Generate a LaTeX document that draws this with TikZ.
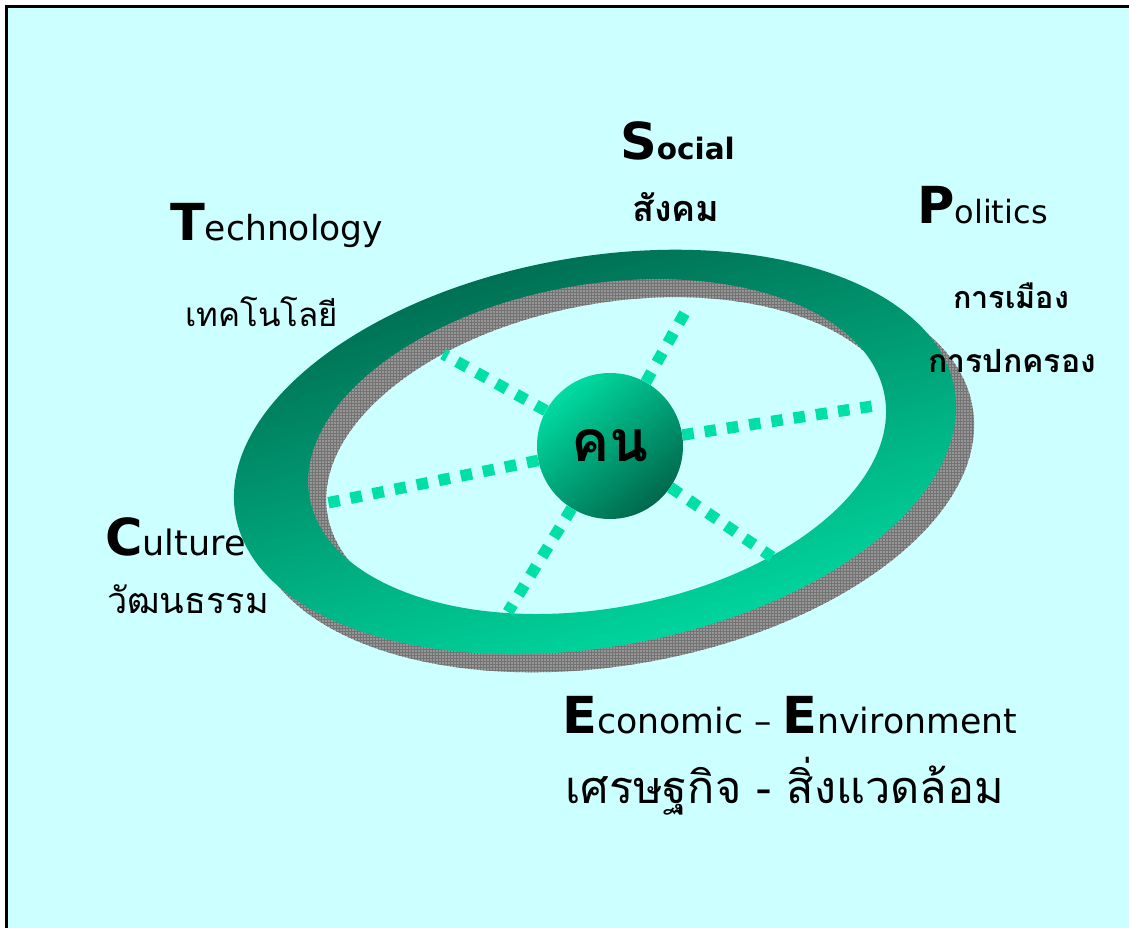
\documentclass[tikz,border=0pt]{standalone}
\usepackage{fontspec}
\setmainfont{DejaVu Sans}
\newfontfamily\thaifont[Script=Thai]{Loma}
\usetikzlibrary{patterns}
\definecolor{bgcyan}{RGB}{204,255,255}
\definecolor{ringdark}{RGB}{0,96,72}
\definecolor{ringlight}{RGB}{0,228,168}
\definecolor{spokecol}{RGB}{0,224,166}
\definecolor{shadowgray}{RGB}{150,150,150}
\definecolor{balllight}{RGB}{0,220,162}
\definecolor{balldark}{RGB}{0,104,76}
\newcommand{\setsize}[1]{\fontsize{#1}{#1}\selectfont}
\newcommand{\ini}[1]{{\setsize{51}\bfseries #1}}

\begin{document}
\begin{tikzpicture}[x=1pt,y=1pt,
    eng/.style={anchor=base west, inner sep=0pt, font=\setsize{35}},
    thai/.style={anchor=base west, inner sep=0pt, font=\thaifont\setsize{36}},
    spokeline/.style={spokecol, line width=11.5pt, dash pattern=on 11.5pt off 11pt}]
  \useasboundingbox (0,0) rectangle (1129,-928);
  \fill[bgcyan] (5,-5) rectangle (1129,-928);
  \draw[line width=3pt] (6.5,-928) -- (6.5,-6.5) -- (1129,-6.5);

  % shadow and ring
  \begin{scope}[shift={(613,-470)}, rotate=10]
    \fill[shadowgray, even odd rule, postaction={pattern=grid, pattern color=black!55}]
      (0,0) ellipse [x radius=365, y radius=195]
      (3,5) ellipse [x radius=292, y radius=162];
  \end{scope}
  \begin{scope}[shift={(595,-452)}, rotate=10]
    \shade[top color=ringdark, bottom color=ringlight, shading angle=16, even odd rule]
      (0,0) ellipse [x radius=365, y radius=195]
      (3,5) ellipse [x radius=292, y radius=162];
  \end{scope}

  % the person in the middle
  \node (kon) at (610,-446) [circle, minimum size=146pt, inner sep=0pt,
    top color=balllight, bottom color=balldark, shading angle=40,
    font=\thaifont\bfseries\setsize{57}] {คน};

  \coordinate (s1) at (688,-307);
  \coordinate (s2) at (443,-354);
  \coordinate (s3) at (880,-405);
  \coordinate (s4) at (327,-503);
  \coordinate (s5) at (508,-612);
  \coordinate (s6) at (772,-557);
  \foreach \s in {1,...,6}
    \draw[spokeline] (kon) -- (s\s);

  \node (tech) at (170,-240) [eng, font=\setsize{34.5}] {\ini{T}echnology};
  \node (techth) at (185,-326) [thai, font=\thaifont\setsize{33}] {เทคโนโลยี};
  \node (soc) at (620,-160) [eng, font=\setsize{29.5}\bfseries] {\ini{S}ocial};
  \node (socth) at (632,-222) [thai, font=\thaifont\bfseries\setsize{36}] {สังคม};
  \node (pol) at (917,-223) [eng, font=\setsize{32}] {\ini{P}olitics};
  \node (polth1) at (953,-308) [thai, font=\thaifont\bfseries\setsize{30.5}] {การเมือง};
  \node (polth2) at (928,-372) [thai, font=\thaifont\bfseries\setsize{32}] {การปกครอง};
  \node (cul) at (105,-555) [eng] {\ini{C}ulture};
  \node (culth) at (107,-613) [thai] {วัฒนธรรม};
  \node (eco) at (562,-733) [eng, font=\setsize{34.7}] {\ini{E}conomic -- \ini{E}nvironment};
  \node (ecoth) at (565,-803) [thai, font=\thaifont\setsize{45}] {เศรษฐกิจ - สิ่งแวดล้อม};
\end{tikzpicture}
\end{document}
